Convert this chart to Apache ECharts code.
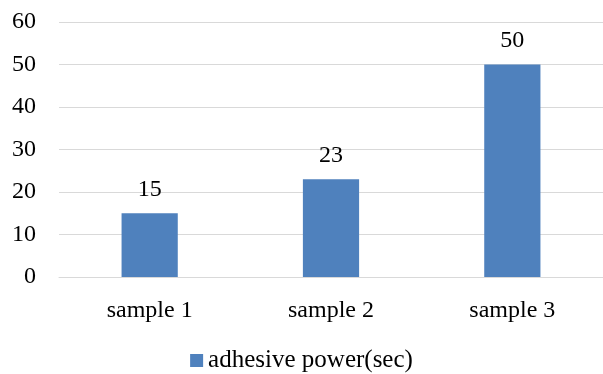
<!DOCTYPE html>
<html><head><meta charset="utf-8">
<script src="https://cdn.jsdelivr.net/npm/echarts@6/dist/echarts.min.js"></script>
<style>html,body{margin:0;padding:0;background:#fff}#c{width:603px;height:374px}</style>
</head><body><div id="c"></div>
<script>
const categories = ['sample 1', 'sample 2', 'sample 3'];
const values = [15, 23, 50];
const seriesName = 'adhesive power(sec)';
const yTicks = {min: 0, max: 60, interval: 10};
const FONT = 'Liberation Serif';
const FS = 24;
const chart = echarts.init(document.getElementById('c'), null, {renderer: 'canvas'});
chart.setOption({
  animation: false,
  textStyle: {fontFamily: FONT},
  grid: {left: 59, right: 0, top: 22, bottom: 97},
  legend: {
    top: 343, left: 'center', itemWidth: 13, itemHeight: 13, itemGap: 6,
    icon: 'rect',
    textStyle: {fontFamily: FONT, fontSize: 25, color: '#000'},
    data: [seriesName]
  },
  xAxis: {
    type: 'category', data: categories,
    axisLine: {show: true, lineStyle: {color: '#d9d9d9', width: 1}},
    axisTick: {show: false},
    axisLabel: {fontFamily: FONT, fontSize: FS, color: '#000', margin: 22}
  },
  yAxis: {
    type: 'value', min: yTicks.min, max: yTicks.max, interval: yTicks.interval,
    axisLine: {show: false}, axisTick: {show: false},
    splitLine: {lineStyle: {color: '#d9d9d9', width: 1}},
    axisLabel: {fontFamily: FONT, fontSize: FS, color: '#000', margin: 23}
  },
  series: [{
    name: seriesName, type: 'bar', data: values, barWidth: '31%',
    itemStyle: {color: '#4F81BD'},
    label: {show: true, position: 'top', distance: 12, fontFamily: FONT, fontSize: FS, color: '#000'}
  }]
});
</script></body></html>
